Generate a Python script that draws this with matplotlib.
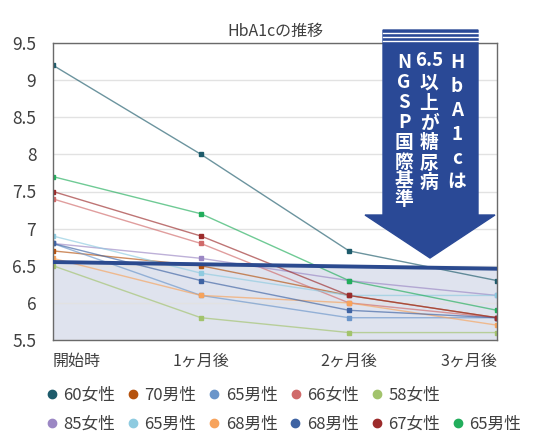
import matplotlib
matplotlib.use("Agg")
import matplotlib.pyplot as plt
import numpy as np
from matplotlib.colors import to_rgba
from matplotlib.lines import Line2D
from matplotlib.patches import Polygon

plt.rcParams["font.family"] = ["Noto Sans CJK JP", "DejaVu Sans"]

months = ["開始時", "1ヶ月後", "2ヶ月後", "3ヶ月後"]
labels = ["60女性", "70男性", "65男性", "66女性", "58女性",
          "85女性", "65男性", "68男性", "68男性", "67女性", "65男性"]
colors = ["#1d5b6b", "#b5520e", "#6a95ca", "#d06a6a", "#a2c36c",
          "#9b87c4", "#8ecbe0", "#f7a35c", "#3e63a3", "#9c2b2b", "#22ae5c"]
values = [
    [9.2, 8.0, 6.7, 6.3],
    [6.7, 6.5, 6.1, 5.8],
    [6.8, 6.1, 5.8, 5.8],
    [7.4, 6.8, 6.0, 5.8],
    [6.5, 5.8, 5.6, 5.6],
    [6.8, 6.6, 6.3, 6.1],
    [6.9, 6.4, 6.1, 6.1],
    [6.6, 6.1, 6.0, 5.7],
    [6.8, 6.3, 5.9, 5.8],
    [7.5, 6.9, 6.1, 5.8],
    [7.7, 7.2, 6.3, 5.9],
]
threshold_x = [0, 3]
threshold_y = [6.55, 6.46]
yticks = [5.5, 6, 6.5, 7, 7.5, 8, 8.5, 9, 9.5]
ytick_labels = ["5.5", "6", "6.5", "7", "7.5", "8", "8.5", "9", "9.5"]

W, H = 533, 446


def fp(x, y):
    # pixel position (from top-left) -> figure fraction
    return (x / W, 1 - y / H)


fig = plt.figure(figsize=(W / 100, H / 100), dpi=100)
ax = fig.add_axes([53 / W, 1 - 340 / H, (497 - 53) / W, (340 - 43) / H])

ax.fill_between(threshold_x, 5.5, threshold_y, color="#dfe3ee", zorder=0.4, lw=0)
ax.yaxis.grid(True, color="#e2e2e2", lw=1)
ax.set_axisbelow(True)

x = np.arange(len(months))
for lab, c, v in zip(labels, colors, values):
    ax.plot(x, v, color=to_rgba(c, 0.65), lw=1.0, marker="s", ms=2.2,
            mfc=c, mec=c, zorder=2, label=lab)

ax.plot(threshold_x, threshold_y, color="#2b4a8f", lw=2.8, zorder=4)

ax.set_xlim(0, 3)
ax.set_ylim(5.5, 9.5)
ax.set_yticks(yticks)
ax.set_yticklabels(ytick_labels)
ax.set_xticks(x)
ax.set_xticklabels(months)
xt = ax.get_xticklabels()
xt[0].set_ha("left")
xt[-1].set_ha("right")
ax.tick_params(axis="both", length=0, labelcolor="#404040")
ax.tick_params(axis="y", pad=12, labelsize=12.5)
ax.tick_params(axis="x", pad=9, labelsize=11.5)
for s in ax.spines.values():
    s.set_color("#6a6a6a")
    s.set_linewidth(1)

ax.set_title("HbA1cの推移", fontsize=11.5, color="#404040", pad=5)

# arrow
arrow_px = [(383, 30), (478, 30), (478, 215), (495, 215), (430, 258),
            (365, 215), (383, 215)]
fig.add_artist(Polygon([fp(*p) for p in arrow_px], closed=True,
                       transform=fig.transFigure, color="#2a4996", zorder=5))
for yy in [32.5, 36.5, 40.5]:
    fig.add_artist(Line2D([383 / W, 478 / W], [1 - yy / H] * 2,
                          transform=fig.transFigure, color="white", lw=1, zorder=6))

cols = [
    (457, ["H", "b", "A", "1", "c", "は"], [62, 86, 110, 134, 158, 181]),
    (429, ["6.5", "以", "上", "が", "糖", "尿", "病"], [61, 83, 103, 123, 143, 163, 182]),
    (404, ["N", "G", "S", "P", "国", "際", "基", "準"], [63, 83, 103, 122, 142, 162, 181, 200]),
]
for cx, chars, ys in cols:
    for ch, cy in zip(chars, ys):
        fig.text(*fp(cx, cy), ch, color="white", fontsize=13.5, fontweight="bold",
                 ha="center", va="center", zorder=7)

handles = [Line2D([], [], ls="none", marker="o", ms=6, color=c) for c in colors]
common = dict(loc="center left", frameon=False, fontsize=12,
              handlelength=0.5, handletextpad=0.45, columnspacing=0.82,
              borderpad=0, labelcolor="#404040")
fig.legend(handles[:5], labels[:5], bbox_to_anchor=fp(39, 395), ncol=5, **common)
fig.legend(handles[5:], labels[5:], bbox_to_anchor=fp(39, 424), ncol=6, **common)

fig.savefig("out.png", dpi=100)
